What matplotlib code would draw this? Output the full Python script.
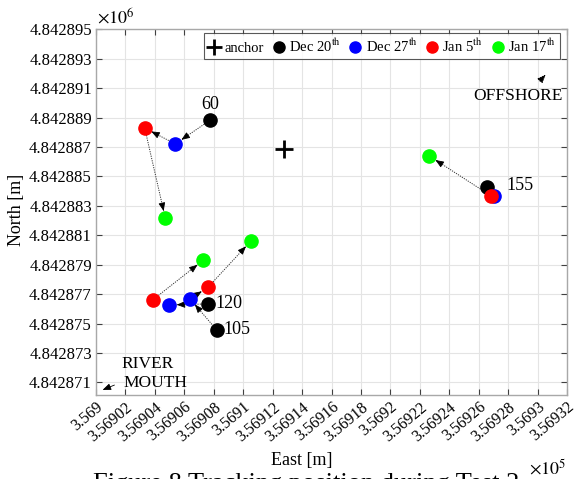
import matplotlib
matplotlib.use("Agg")
import matplotlib.pyplot as plt
from matplotlib.lines import Line2D
from matplotlib.ticker import FuncFormatter
import numpy as np

plt.rcParams['font.family'] = ['Liberation Serif', 'DejaVu Serif']
plt.rcParams['mathtext.fontset'] = 'stix'

# ---- data ----
dates = ["Dec 20", "Dec 27", "Jan 5", "Jan 17"]
date_colors = ["#000000", "#0000ff", "#ff0000", "#00ff00"]
track_ids = ["60", "120", "105", "155"]

east_dec20 = [356907.77, 356907.63, 356908.20, 356926.58]
north_dec20 = [4842888.84, 4842876.34, 4842874.57, 4842884.27]
east_dec27 = [356905.39, 356904.98, 356906.39, 356927.04]
north_dec27 = [4842887.21, 4842876.27, 4842876.68, 4842883.68]
east_jan5 = [356903.31, 356903.85, 356907.61, 356926.81]
north_jan5 = [4842888.29, 4842876.61, 4842877.47, 4842883.70]
east_jan17 = [356904.71, 356907.29, 356910.53, 356922.64]
north_jan17 = [4842882.16, 4842879.31, 4842880.62, 4842886.39]

anchor_east = [356912.77]
anchor_north = [4842886.87]

x_ticks = [356900 + 2 * i for i in range(17)]
y_ticks = [4842871 + 2 * i for i in range(13)]

east_series = [east_dec20, east_dec27, east_jan5, east_jan17]
north_series = [north_dec20, north_dec27, north_jan5, north_jan17]

# ---- figure ----
fig = plt.figure(figsize=(5.77, 4.79), dpi=100)
ax = fig.add_axes([96 / 577, 1 - 395 / 479, 471 / 577, 365.7 / 479])
ax.set_xlim(356900, 356932)
ax.set_ylim(4842870.15, 4842895)

ax.grid(True, color="#e4e4e4", lw=0.8, zorder=0)
ax.set_axisbelow(True)
for s in ax.spines.values():
    s.set_color("#a8a8a8")
    s.set_linewidth(1.0)
ax.tick_params(direction="in", length=4, color="#404040", top=True, right=True,
               labelsize=12, pad=3)
ax.set_xticks(x_ticks)
ax.set_yticks(y_ticks)
ax.xaxis.set_major_formatter(FuncFormatter(lambda v, p: f"{v / 1e5:.6g}"))
ax.yaxis.set_major_formatter(FuncFormatter(lambda v, p: f"{v / 1e6:.6f}"))
for lab in ax.get_xticklabels():
    lab.set_rotation(40)
    lab.set_ha("right")
    lab.set_va("top")
    lab.set_rotation_mode("anchor")
    lab.set_fontsize(11.5)

# arrows between successive surveys
marker_r = 0.50
for t in range(len(track_ids)):
    for d in range(len(dates) - 1):
        x0, y0 = east_series[d][t], north_series[d][t]
        x1, y1 = east_series[d + 1][t], north_series[d + 1][t]
        dx, dy = x1 - x0, y1 - y0
        L = np.hypot(dx, dy)
        if L < 1.2:
            continue
        ux, uy = dx / L, dy / L
        sx, sy = x0 + ux * marker_r, y0 + uy * marker_r
        ex, ey = x1 - ux * marker_r, y1 - uy * marker_r
        ax.plot([sx, ex], [sy, ey], ls=(0, (1.2, 1.2)), lw=0.7, color="#303030", zorder=2)
        ax.annotate("", xy=(ex, ey), xytext=(ex - ux * 0.4, ey - uy * 0.4),
                    arrowprops=dict(arrowstyle="-|>,head_length=0.5,head_width=0.2",
                                    color="black", lw=0.6, shrinkA=0, shrinkB=0),
                    zorder=3)

# points
for d in range(len(dates)):
    ax.plot(east_series[d], north_series[d], "o", ms=9.5, color=date_colors[d],
            mec=date_colors[d], ls="none", zorder=4)

ax.plot(anchor_east, anchor_north, "+", ms=13, mew=2, color="black", zorder=4)

# track labels (offsets in points)
label_offsets = {"60": (0, 11, "center"), "120": (5, 0, "left"),
                 "105": (5, 0, "left"), "155": (13.5, 1.5, "left")}
for t, tid in enumerate(track_ids):
    ox, oy, ha = label_offsets[tid]
    ax.annotate(tid, (east_dec20[t], north_dec20[t]), xytext=(ox, oy),
                textcoords="offset points", ha=ha, va="center", fontsize=13, zorder=5)

# direction annotations
ax.annotate("", xy=(547.5 / 577, 1 - 72.5 / 479), xytext=(538 / 577, 1 - 83 / 479),
            xycoords="figure fraction", textcoords="figure fraction",
            arrowprops=dict(arrowstyle="-|>,head_length=0.5,head_width=0.2",
                            ls=(0, (1.2, 1.2)), lw=0.7, color="black"))
fig.text(518 / 577, 1 - 96 / 479, "OFFSHORE", ha="center", va="center", fontsize=12.5)
ax.annotate("", xy=(100 / 577, 1 - 391 / 479), xytext=(117 / 577, 1 - 384 / 479),
            xycoords="figure fraction", textcoords="figure fraction",
            arrowprops=dict(arrowstyle="-|>,head_length=0.5,head_width=0.2",
                            lw=0.6, color="black"))
fig.text(121 / 577, 1 - 364 / 479, "RIVER", ha="left", va="center", fontsize=12.5)
fig.text(123 / 577, 1 - 383 / 479, "MOUTH", ha="left", va="center", fontsize=12.5)

# axis labels and exponents
fig.text(302 / 577, 1 - 461 / 479, "East [m]", ha="center", va="center", fontsize=13)
fig.text(17 / 577, 1 - 210 / 479, "North [m]", ha="center", va="center",
         rotation=90, fontsize=13)
fig.text(97 / 577, 1 - 17 / 479, r"$\times10^{6}$", ha="left", va="center", fontsize=13)
fig.text(566 / 577, 1 - 468 / 479, r"$\times10^{5}$", ha="right", va="center", fontsize=13)

# legend
handles = [Line2D([], [], marker="+", ms=12, mew=2, color="black", ls="none")]
labels = ["anchor"]
for d in range(len(dates)):
    handles.append(Line2D([], [], marker="o", ms=8, color=date_colors[d], ls="none"))
    num = dates[d].split()
    labels.append(num[0] + " " + num[1] + r"$^{\mathrm{th}}$")
leg = fig.legend(handles, labels, ncol=5, loc="upper right",
                 bbox_to_anchor=(560 / 577, 1 - 33 / 479), fontsize=10.5,
                 frameon=True, fancybox=False, edgecolor="#303030",
                 handlelength=0.9, handletextpad=0.25, columnspacing=0.55,
                 borderpad=0.3, borderaxespad=0)
leg.get_frame().set_linewidth(0.8)

# caption (cut by the image edge, as in the source)
fig.text(306 / 577, 1 - 484 / 479, "Figure 8 Tracking position during Test 2",
         ha="center", va="center", fontsize=19)

fig.savefig("out.png", dpi=100)
